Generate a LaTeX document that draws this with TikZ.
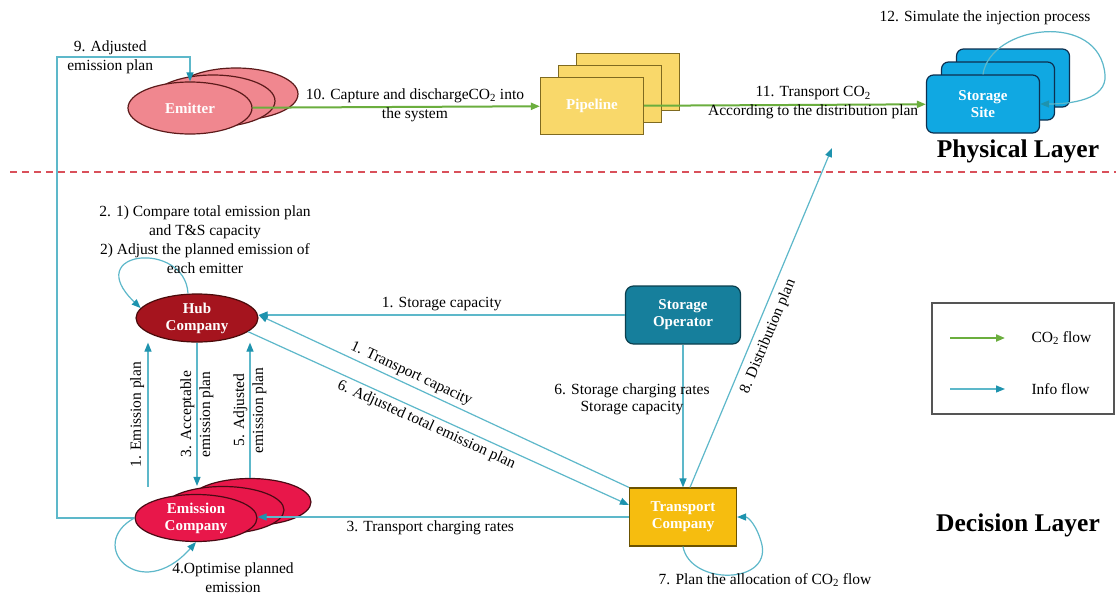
\documentclass[tikz,border=0pt]{standalone}
\usepackage{fontspec}
\setmainfont{Liberation Serif}
\usepackage{tikz}
\usetikzlibrary{arrows.meta,shapes.geometric,calc}

\definecolor{infoline}{HTML}{5DB8CA}
\definecolor{infotip}{HTML}{1E93AE}
\definecolor{flowgreen}{HTML}{6BAE3E}
\definecolor{emitterfill}{HTML}{F0878F}
\definecolor{emitterline}{HTML}{5C1A1A}
\definecolor{pipefill}{HTML}{F9D86A}
\definecolor{pipeline}{HTML}{7F6A20}
\definecolor{sitefill}{HTML}{10A8E2}
\definecolor{siteline}{HTML}{0D3050}
\definecolor{hubfill}{HTML}{A5141E}
\definecolor{hubline}{HTML}{4A0A0A}
\definecolor{operatorfill}{HTML}{167F9C}
\definecolor{operatorline}{HTML}{0B3F4E}
\definecolor{transportfill}{HTML}{F6BD0F}
\definecolor{transportline}{HTML}{6B5200}
\definecolor{emissionfill}{HTML}{E8174A}
\definecolor{emissionline}{HTML}{4A0A14}
\definecolor{layerred}{HTML}{D9505A}
\definecolor{legendline}{HTML}{555555}

\begin{document}
\begin{tikzpicture}[x = 1pt, y = -1pt,
  font = \fontsize{15.5}{19}\selectfont,
  info/.style = {draw = infoline, line width = 1.2pt, -{Triangle[length = 9pt, width = 7pt, color = infotip]}},
  flow/.style = {draw = flowgreen, line width = 2pt, -{Triangle[length = 9pt, width = 7pt]}},
  box/.style = {text = white, font = \fontsize{15}{17}\selectfont\bfseries, align = center, inner sep = 0pt, line width = 1.2pt},
  emitter/.style = {box, ellipse, draw = emitterline, fill = emitterfill, minimum width = 124pt, minimum height = 52pt},
  pipe/.style = {box, rectangle, draw = pipeline, fill = pipefill, minimum width = 103pt, minimum height = 57pt},
  site/.style = {box, rectangle, rounded corners = 7pt, draw = siteline, fill = sitefill, minimum width = 113pt, minimum height = 58pt},
  emission/.style = {box, ellipse, draw = emissionline, fill = emissionfill, minimum width = 122pt, minimum height = 47pt}]

\useasboundingbox (0,0) rectangle (1116,595);
\fill [white] (0,0) rectangle (1116,595);

\draw [layerred, line width = 1.2pt, dash pattern = on 7pt off 5pt] (10,172) -- (1116,172);

\node [emitter] (nodeEmitterC) at (236,94) {};
\node [emitter] (nodeEmitterB) at (213,101) {};
\node [emitter] (nodeEmitter) at (190,108) {Emitter};

\node [pipe] (nodePipelineC) at (628,82) {};
\node [pipe] (nodePipelineB) at (610,94) {};
\node [pipe] (nodePipeline) at (592,106) {Pipeline};

\node [site] (nodeSiteC) at (1013,78) {};
\node [site] (nodeSiteB) at (998,91) {};
\node [site] (nodeSite) at (983,104) {Storage\\Site};

\node [box, ellipse, draw = hubline, fill = hubfill, minimum width = 122pt, minimum height = 48pt] (nodeHub) at (197,318) {Hub\\Company};
\node [box, rectangle, rounded corners = 8pt, draw = operatorline, fill = operatorfill, minimum width = 115pt, minimum height = 58pt] (nodeOperator) at (683,315) {Storage\\Operator};
\node [box, rectangle, draw = transportline, fill = transportfill, minimum width = 107pt, minimum height = 58pt] (nodeTransport) at (683,517) {Transport\\Company};

\node [emission] (nodeEmissionC) at (250,502) {};
\node [emission] (nodeEmissionB) at (223,510) {};
\node [emission] (nodeEmission) at (196,518) {Emission\\Company};

\coordinate (cornerAdjusted) at (57,57);
\coordinate (distTip) at (832,148);

\draw [flow] (nodeEmitter) -- (nodePipeline) node [pos = 0.565, align = center, yshift = 2pt] {10. Capture and dischargeCO\textsubscript{2} into\\the system};
\draw [flow] (nodePipeline) -- (nodeSite) node [pos = 0.6, align = center, yshift = 2pt] {11. Transport CO\textsubscript{2}\\According to the distribution plan};

\draw [info] (nodeEmission.west) -| (cornerAdjusted) -| (nodeEmitter.north) node [pos = 0.2, align = center] {9. Adjusted\\emission plan};

\draw [info] (nodeOperator.west) -- (nodeOperator.west -| nodeHub.east) node [pos = 0.5, above] {1. Storage capacity};
\draw [info] (nodeTransport.north west) -- (nodeOperator.west -| nodeHub.east) node [pos = 0.6, sloped, above] {1. Transport capacity};
\draw [info] (nodeHub.-15) -- ([yshift = 12pt]nodeTransport.west) node [pos = 0.48, sloped, below] {6. Adjusted total emission plan};
\draw [info] (nodeOperator) -- (nodeTransport) node [pos = 0.38, xshift = -51pt, align = center, font = \fontsize{15.5}{17}\selectfont] {6. Storage charging rates\\Storage capacity};
\draw [info] ([xshift = 7pt]nodeTransport.north) -- (distTip) node [pos = 0.46, sloped, below = 3pt] {8. Distribution plan};
\draw [info] (nodeTransport.west) -- (nodeTransport.west -| nodeEmission.east) node [pos = 0.535, below] {3. Transport charging rates};

\draw [info] ($(nodeHub.south |- nodeEmission.north)+(-49,-7)$) -- ($(nodeHub.south)+(-49,0)$) node [pos = 0.5, rotate = 90, above] {1. Emission plan};
\draw [info] (nodeHub.south) -- (nodeHub.south |- nodeEmissionB.north) node [pos = 0.5, rotate = 90, align = center] {3. Acceptable\\emission plan};
\draw [info] (nodeEmissionC.north) -- (nodeEmissionC.north |- nodeHub.south) node [pos = 0.5, rotate = 90, align = center] {5. Adjusted\\emission plan};

\draw [info] ([xshift = -9pt]nodeHub.north) .. controls (185,240) and (80,250) .. (nodeHub.170);
\draw [info] (nodeEmission.west) .. controls (85,545) and (140,605) .. (nodeEmission.south);
\draw [info] (nodeTransport.south) .. controls (690,585) and (770,585) .. (762,545) .. controls (757,525) and (748,517) .. (nodeTransport.east);
\draw [info] (nodeSite.north) .. controls (990,25) and (1100,10) .. (1105,75) .. controls (1107,100) and (1070,104) .. (nodeSite.east);

\node [align = center] (labelHub) at (205,240) {2. 1) Compare total emission plan\\and T\&S capacity\\2) Adjust the planned emission of\\each emitter};
\node [align = center] (labelEmission) at (233,578) {4.Optimise planned\\emission};
\node (labelTransport) at (765,580) {7. Plan the allocation of CO\textsubscript{2} flow};
\node (labelSite) at (985,18) {12. Simulate the injection process};

\node [draw = legendline, line width = 1.5pt, minimum width = 182pt, minimum height = 111pt] (nodeLegend) at (1023,358.5) {};
\node [anchor = west] (legendGreen) at (1028,338) {CO\textsubscript{2} flow};
\node [anchor = west] (legendInfo) at (1028,389) {Info flow};
\draw [flow] ([xshift = -78pt]legendGreen.west) -- ([xshift = -23pt]legendGreen.west);
\draw [info] ([xshift = -78pt]legendInfo.west) -- ([xshift = -23pt]legendInfo.west);

\node [font = \fontsize{25.5}{28}\selectfont\bfseries] (labelPhysical) at (1018,151) {Physical Layer};
\node [font = \fontsize{25.5}{28}\selectfont\bfseries] (labelDecision) at (1018,525) {Decision Layer};

\end{tikzpicture}
\end{document}
